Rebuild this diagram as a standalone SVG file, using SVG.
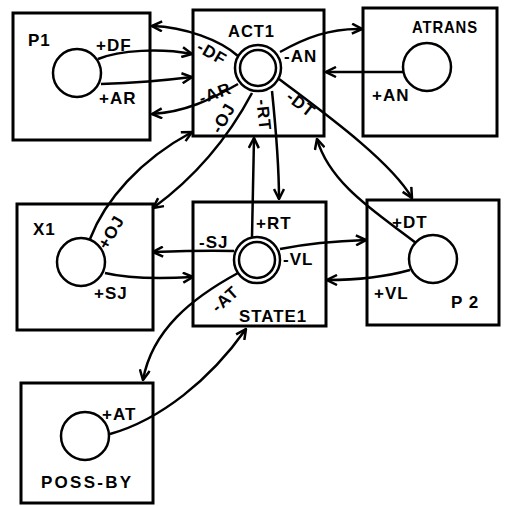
<svg xmlns="http://www.w3.org/2000/svg" width="505" height="506" viewBox="0 0 505 506">
<style>
.box{fill:#fff;stroke:#000;stroke-width:3}
.c{fill:#fff;stroke:#000;stroke-width:2.5}
.e{fill:none;stroke:#000;stroke-width:2.5}
text{font-family:"Liberation Sans",Arial,sans-serif;font-weight:bold;font-size:17px;fill:#000;letter-spacing:1px}
.r{text-anchor:middle}
</style>
<defs>
<marker id="a" viewBox="0 0 12 12" refX="11" refY="6" markerWidth="12" markerHeight="12" markerUnits="userSpaceOnUse" orient="auto">
<path d="M1,1 L11,6 L1,11" fill="none" stroke="#000" stroke-width="2.5"/>
</marker>
</defs>
<rect width="505" height="506" fill="#fff"/>
<g id="P1">
<rect class="box" x="13" y="13" width="137" height="127"/>
<circle class="c" cx="77" cy="73" r="24"/>
<text x="28" y="46">P1</text>
<text x="96" y="51">+DF</text>
<text x="99" y="104">+AR</text>
</g>
<g id="ACT1">
<rect class="box" x="193" y="10" width="131" height="126"/>
<circle class="c" cx="258" cy="68" r="23"/>
<circle class="c" cx="258" cy="68" r="18"/>
<text x="228" y="37" textLength="47" lengthAdjust="spacingAndGlyphs">ACT1</text>
<text x="284" y="62">-AN</text>
<text class="r" transform="translate(212,53) rotate(30)" y="6">-DF</text>
<text class="r" transform="translate(215,93) rotate(-20)" y="6">-AR</text>
<text class="r" transform="translate(223,118) rotate(-60)" y="6">-OJ</text>
<text class="r" transform="translate(264,115) rotate(84)" y="6">-RT</text>
<text class="r" transform="translate(301,104) rotate(38)" y="6">-DT</text>
</g>
<g id="ATRANS">
<rect class="box" x="363" y="8" width="134" height="128"/>
<circle class="c" cx="427" cy="67" r="24"/>
<text x="412" y="33" textLength="66" lengthAdjust="spacingAndGlyphs">ATRANS</text>
<text x="372" y="101">+AN</text>
</g>
<g id="X1">
<rect class="box" x="17" y="204" width="136" height="126"/>
<circle class="c" cx="81" cy="262" r="24"/>
<text x="33" y="235">X1</text>
<text x="94" y="299">+SJ</text>
<text class="r" transform="translate(111,232) rotate(-60)" y="6">+OJ</text>
</g>
<g id="STATE1">
<rect class="box" x="193" y="202" width="133" height="124"/>
<circle class="c" cx="257" cy="260" r="23"/>
<circle class="c" cx="257" cy="260" r="18"/>
<text x="256" y="229">+RT</text>
<text x="199" y="248">-SJ</text>
<text x="283" y="265">-VL</text>
<text x="239" y="322" textLength="68" lengthAdjust="spacingAndGlyphs">STATE1</text>
<text class="r" transform="translate(225,299) rotate(-42)" y="6">-AT</text>
</g>
<g id="P2">
<rect class="box" x="367" y="200" width="132" height="125"/>
<circle class="c" cx="433" cy="259" r="24"/>
<text x="392" y="228">+DT</text>
<text x="374" y="299">+VL</text>
<text x="451" y="308">P 2</text>
</g>
<g id="POSS-BY">
<rect class="box" x="21" y="383" width="132" height="120"/>
<circle class="c" cx="85" cy="436" r="24"/>
<text x="102" y="420">+AT</text>
<text x="41" y="488" textLength="91" lengthAdjust="spacing">POSS-BY</text>
</g>
<g id="connectors">
<path class="e" marker-end="url(#a)" d="M238,56 C220,40 185,27 152,26"/>
<path class="e" marker-end="url(#a)" d="M98,59 C120,50 160,48 192,54"/>
<path class="e" marker-end="url(#a)" d="M101,84 C130,83 160,81 192,77"/>
<path class="e" marker-end="url(#a)" d="M238,84 C210,100 185,112 152,114"/>
<path class="e" marker-end="url(#a)" d="M90,239 C105,200 140,160 192,132"/>
<path class="e" marker-end="url(#a)" d="M252,93 C235,125 205,170 153,208"/>
<path class="e" marker-end="url(#a)" d="M272,91 C276,130 279,165 279,199"/>
<path class="e" marker-end="url(#a)" d="M252,237 L254,138"/>
<path class="e" marker-end="url(#a)" d="M280,52 C305,38 330,28 362,29"/>
<path class="e" marker-end="url(#a)" d="M403,72 L326,72"/>
<path class="e" marker-end="url(#a)" d="M279,79 C320,110 390,160 412,198"/>
<path class="e" marker-end="url(#a)" d="M416,243 C380,215 330,185 317,139"/>
<path class="e" marker-end="url(#a)" d="M234,251 C210,250 180,251 153,252"/>
<path class="e" marker-end="url(#a)" d="M105,273 C130,279 160,279 193,277"/>
<path class="e" marker-end="url(#a)" d="M280,249 C305,244 335,241 366,240"/>
<path class="e" marker-end="url(#a)" d="M410,270 C385,277 355,280 327,280"/>
<path class="e" marker-end="url(#a)" d="M238,273 C192,298 152,330 143,380"/>
<path class="e" marker-end="url(#a)" d="M110,434 C160,420 210,380 246,329"/>
</g>
</svg>
